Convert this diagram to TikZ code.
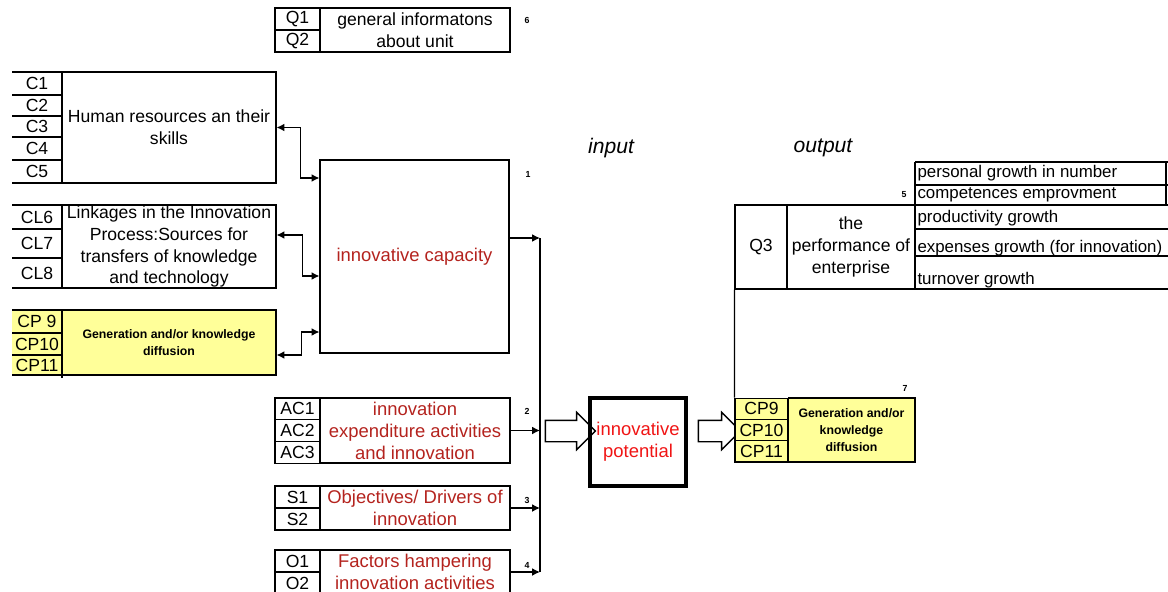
\documentclass[tikz,border=0pt]{standalone}
\usepackage{fontspec}
\setmainfont{Liberation Sans}
\usetikzlibrary{arrows.meta,shapes.arrows}
\definecolor{cellfill}{HTML}{FFFF99}
\definecolor{capred}{HTML}{B4231E}
\definecolor{potred}{HTML}{F01414}
\tikzset{
  box/.style={draw, line width=0.6pt, inner sep=0pt, align=center},
  redtext/.style={text=capred, font=\fontsize{10.5}{12.5}\selectfont},
  smalltext/.style={font=\fontsize{7}{9.5}\selectfont\bfseries},
  rowtext/.style={anchor=west, font=\fontsize{9.6}{12}\selectfont},
  tag/.style={inner sep=0pt, font=\fontsize{5}{6}\selectfont\bfseries},
  link/.style={line width=0.8pt, {Latex[length=4.5pt,width=4.5pt]}-{Latex[length=4.5pt,width=4.5pt]}},
  feed/.style={line width=0.8pt, -{Latex[length=4.5pt,width=4.5pt]}},
  hollow/.style={draw, line width=0.8pt, single arrow, single arrow head extend=0.16cm,
    inner sep=0.2cm, minimum width=0.72cm}
}
\begin{document}
\begin{tikzpicture}[x=0.02cm, y=-0.02cm, line width=0.6pt,
    every node/.style={inner sep=0pt, font=\fontsize{10}{12.5}\selectfont}]
  \useasboundingbox (0,0) rectangle (1168,591);

  \node[box, minimum width=0.9cm, minimum height=0.44cm] (q1) at (297.5,19) {Q1};
  \node[box, minimum width=0.9cm, minimum height=0.44cm] (q2) at (297.5,41) {Q2};
  \node[box, minimum width=3.8cm, minimum height=0.88cm] (genbox) at (415,30) {general informatons\\about unit};
  \node[tag] (t6) at (527,20) {6};

  \node[box, minimum width=4.28cm, minimum height=2.22cm] (hrbox) at (169,127.5) {Human resources an their\\skills};
  \foreach \y in {72,95,116,137,160,183} \draw (12,\y) -- (62,\y);
  \node (c1) at (37,83.5) {C1};
  \node (c2) at (37,105.5) {C2};
  \node (c3) at (37,126.5) {C3};
  \node (c4) at (37,148.5) {C4};
  \node (c5) at (37,171.5) {C5};

  \node[box, minimum width=4.28cm, minimum height=1.66cm] (clbox) at (169,246.5)
    {Linkages in the Innovation\\Process:Sources for\\transfers of knowledge\\and technology};
  \foreach \y in {205,229,258,288} \draw (12,\y) -- (62,\y);
  \node (cl6) at (37,217) {CL6};
  \node (cl7) at (37,243.5) {CL7};
  \node (cl8) at (37,273) {CL8};

  \fill[cellfill] (12,310) rectangle (62,375);
  \node[box, fill=cellfill, smalltext, minimum width=4.28cm, minimum height=1.3cm] (cpbox) at (169,342.5)
    {Generation and/or knowledge\\diffusion};
  \foreach \y in {310,333,355,375} \draw (12,\y) -- (62,\y);
  \draw (62,375) -- (62,378);
  \node (cp9) at (37,321.5) {CP 9};
  \node (cp10) at (37,344) {CP10};
  \node (cp11) at (37,365) {CP11};

  \node[box, minimum width=3.78cm, minimum height=3.86cm, redtext] (cap) at (414.5,256.5) {innovative capacity};
  \node[tag] (t1) at (528,174) {1};

  \node[box, minimum width=0.9cm, minimum height=0.433cm] (ac1) at (297.5,408.8) {AC1};
  \node[box, minimum width=0.9cm, minimum height=0.433cm] (ac2) at (297.5,430.5) {AC2};
  \node[box, minimum width=0.9cm, minimum height=0.433cm] (ac3) at (297.5,452.2) {AC3};
  \node[box, minimum width=3.8cm, minimum height=1.3cm, redtext] (acbox) at (415,430.5)
    {innovation\\expenditure activities\\and innovation};
  \node[tag] (t2) at (527,411) {2};

  \node[box, minimum width=0.9cm, minimum height=0.44cm] (s1) at (297.5,497) {S1};
  \node[box, minimum width=0.9cm, minimum height=0.44cm] (s2) at (297.5,519) {S2};
  \node[box, minimum width=3.8cm, minimum height=0.88cm, redtext] (sbox) at (415,508)
    {Objectives/ Drivers of\\innovation};
  \node[tag] (t3) at (527,500) {3};

  \node[box, minimum width=0.9cm, minimum height=0.44cm] (o1) at (297.5,561) {O1};
  \node[box, minimum width=0.9cm, minimum height=0.44cm] (o2) at (297.5,583) {O2};
  \node[box, minimum width=3.8cm, minimum height=0.88cm, redtext] (obox) at (415,572)
    {Factors hampering\\innovation activities};
  \node[tag] (t4) at (527,565) {4};

  \coordinate (bustop) at (540,238);
  \coordinate (busbot) at (540,572);

  \node[hollow, minimum height=1cm] (blk1) at (565,431) {};
  \node[box, line width=1.8pt, minimum width=1.92cm, minimum height=1.76cm, redtext, text=potred] (pot) at (638,442)
    {innovative\\potential};
  \node[hollow, minimum height=0.84cm] (blk2) at (714,431) {};

  \node[box, fill=cellfill, minimum width=1.06cm, minimum height=0.427cm] (cp9o) at (761.5,408.7) {CP9};
  \node[box, fill=cellfill, minimum width=1.06cm, minimum height=0.427cm] (cp10o) at (761.5,430) {CP10};
  \node[box, fill=cellfill, minimum width=1.06cm, minimum height=0.427cm] (cp11o) at (761.5,451.3) {CP11};
  \node[box, fill=cellfill, smalltext, minimum width=2.54cm, minimum height=1.28cm] (cpobox) at (851.5,430)
    {Generation and/or\\knowledge\\diffusion};
  \node[tag] (t7) at (905,388) {7};

  \node[box, minimum width=1.04cm, minimum height=1.68cm] (q3) at (761,247) {Q3};
  \node[box, minimum width=2.56cm, minimum height=1.68cm] (perf) at (851,247) {the\\performance of\\enterprise};
  \foreach \y in {162,185,205,229,256,289} \draw (915,\y) -- (1168,\y);
  \draw (915,162) -- (915,289);
  \draw (1166,162) -- (1166,205);
  \node[rowtext] (g1) at (917,173) {personal growth in number};
  \node[rowtext] (g2) at (917,195) {competences emprovment};
  \node[rowtext] (g3) at (917,218) {productivity growth};
  \node[rowtext] (g4) at (917,248) {expenses growth (for innovation)};
  \node[rowtext] (g5) at (917,280) {turnover growth};
  \node[tag] (t5) at (904,195) {5};

  \node[font=\fontsize{12}{14}\selectfont\itshape] (inp) at (611,148) {input};
  \node[font=\fontsize{12}{14}\selectfont\itshape] (outp) at (823,148) {output};

  \begin{scope}
    \draw[link] (hrbox.east) -- ++(24,0) |- (cap.west |- 0,178);
    \draw[link] ([yshift=0.23cm]clbox.east) -- ++(26,0) |- (cap.west |- 0,276);
    \draw[link] ([yshift=-0.25cm]cpbox.east) -- ++(25,0) |- (cap.west |- 0,332);
    \draw[feed] (cap.east |- bustop) -- (bustop);
    \draw (bustop) -- (busbot);
    \draw[feed] (acbox.east) -- (acbox.east -| bustop);
    \draw[feed] (sbox.east) -- (sbox.east -| bustop);
    \draw[feed] (obox.east) -- (obox.east -| bustop);
    \draw (q3.south west) -- (cp9o.north west);
  \end{scope}
\end{tikzpicture}
\end{document}
